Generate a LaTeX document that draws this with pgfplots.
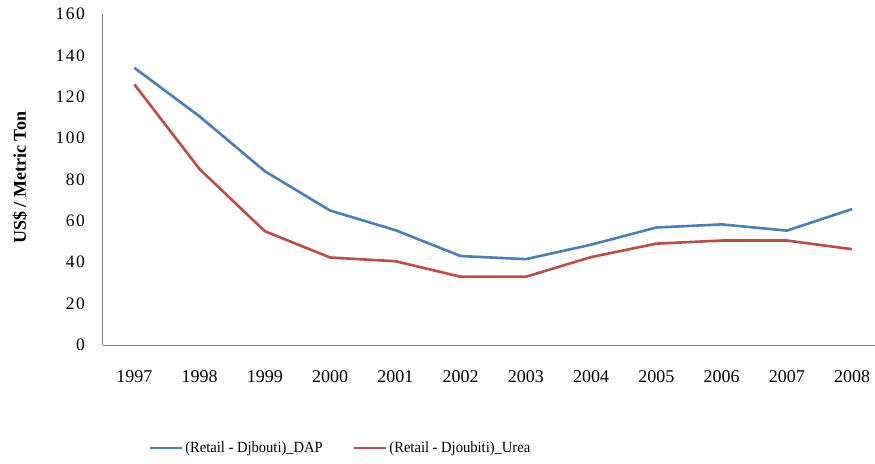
\documentclass[border=0pt]{standalone}
\usepackage{fontspec}
\setmainfont{Liberation Serif}
\newfontfamily\ytickfont[LetterSpace=8]{Liberation Serif}
\newfontfamily\legendfont[FakeStretch=0.94]{Liberation Serif}
\usepackage{pgfplots}
\pgfplotsset{compat=1.18}
\usetikzlibrary{calc}

\definecolor{dapblue}{RGB}{74,126,187}
\definecolor{ureared}{RGB}{190,75,72}
\definecolor{axisgray}{RGB}{134,134,134}

\begin{document}
\begin{tikzpicture}
\begin{axis}[
  scale only axis,
  width=772pt, height=331pt,
  xmin=1996.52, xmax=2008.35,
  ymin=0, ymax=160,
  axis x line=bottom, axis y line=left,
  axis line style={axisgray, line width=1pt, -},
  xtick={1997,...,2008},
  ytick={0,20,...,160},
  major tick length=0pt,
  /pgf/number format/assume math mode=true,
  xticklabel={\pgfmathprintnumber[1000 sep={}]{\tick}},
  xticklabel style={font=\fontsize{18}{20}\selectfont, inner sep=0pt, yshift=-25pt},
  yticklabel style={font=\fontsize{17.5}{20}\selectfont\ytickfont, inner sep=0pt, xshift=-18pt},
  ylabel={\textbf{US\$ / Metric Ton}},
  ylabel style={font=\fontsize{18}{20}\selectfont, at={(axis description cs:-0.1075,0.505)}, anchor=center},
  legend columns=2,
  legend style={draw=none, font=\fontsize{15.5}{17}\selectfont\legendfont,
    at={(axis description cs:0.055,-0.311)}, anchor=west,
    /tikz/every even column/.append style={column sep=28pt}},
  legend image code/.code={\draw[#1, line width=2.6pt] (0pt,0pt) -- (32pt,0pt);},
  clip=false,
]
\addplot[dapblue, line width=2.6pt] coordinates {
  (1997,134) (1998,110.5) (1999,84) (2000,65) (2001,55.5) (2002,43)
  (2003,41.5) (2004,48.5) (2005,56.8) (2006,58.3) (2007,55.3) (2008,65.7)};
\addlegendentry{(Retail - Djbouti)\_DAP}
\addplot[ureared, line width=2.6pt] coordinates {
  (1997,126) (1998,85) (1999,55) (2000,42.3) (2001,40.5) (2002,33)
  (2003,33) (2004,42.5) (2005,49) (2006,50.5) (2007,50.5) (2008,46.3)};
\addlegendentry{(Retail - Djoubiti)\_Urea}
\end{axis}
\pgfresetboundingbox
\path[use as bounding box] ($(current axis.south west)+(-103pt,-118pt)$) rectangle ($(current axis.north east)+(0pt,14pt)$);
\end{tikzpicture}
\end{document}
